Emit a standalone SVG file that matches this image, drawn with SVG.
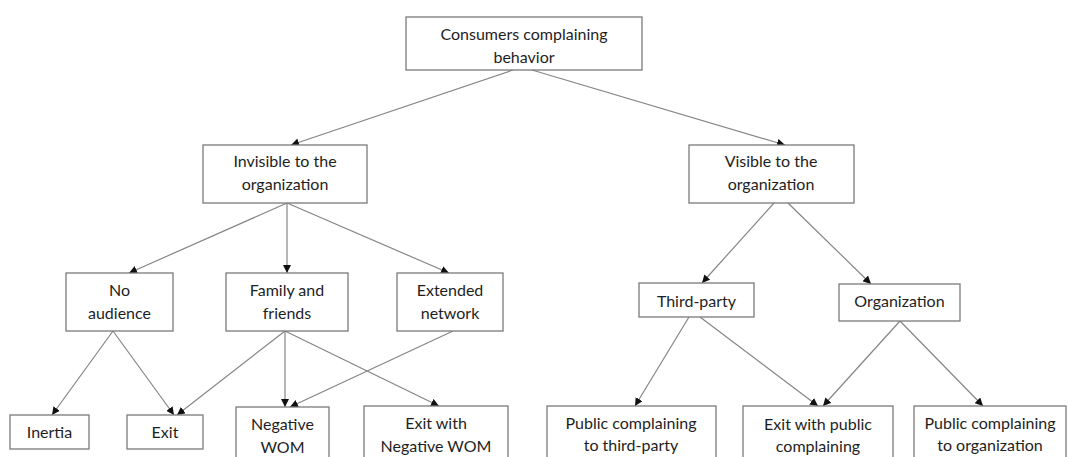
<svg xmlns="http://www.w3.org/2000/svg" width="1068" height="457" viewBox="0 0 1068 457">
  <style>
    .box { fill: #ffffff; stroke: #7a7a7a; stroke-width: 1.3; }
    .lbl { font-family: Lato, "Liberation Sans", sans-serif; font-size: 16px; fill: #1e1e1e; text-anchor: middle; }
    .edge { stroke: #858585; stroke-width: 1.2; fill: none; marker-end: url(#arrow); }
  </style>
  <defs>
    <marker id="arrow" markerUnits="userSpaceOnUse" markerWidth="10" markerHeight="8" refX="8" refY="4" orient="auto">
      <path d="M0,0 L8,4 L0,8 Z" fill="#111111"/>
    </marker>
  </defs>
  <rect width="1068" height="457" fill="#ffffff"/>

  <!-- connectors -->
  <g id="connectors">
    <line class="edge" x1="513" y1="70" x2="291" y2="145"/>
    <line class="edge" x1="532" y1="70" x2="785" y2="145"/>
    <line class="edge" x1="287" y1="203" x2="129" y2="273"/>
    <line class="edge" x1="287" y1="203" x2="287" y2="273"/>
    <line class="edge" x1="287" y1="203" x2="449" y2="273"/>
    <line class="edge" x1="113" y1="331" x2="52" y2="415"/>
    <line class="edge" x1="113" y1="331" x2="174" y2="415"/>
    <line class="edge" x1="285" y1="331" x2="177" y2="415"/>
    <line class="edge" x1="285" y1="331" x2="285" y2="407"/>
    <line class="edge" x1="285" y1="331" x2="439" y2="406"/>
    <line class="edge" x1="453" y1="331" x2="290" y2="407"/>
    <line class="edge" x1="774" y1="203" x2="702" y2="283"/>
    <line class="edge" x1="788" y1="203" x2="871" y2="284"/>
    <line class="edge" x1="689" y1="317" x2="635" y2="406"/>
    <line class="edge" x1="700" y1="317" x2="818" y2="406"/>
    <line class="edge" x1="900" y1="321" x2="823" y2="406"/>
    <line class="edge" x1="900" y1="321" x2="983" y2="406"/>
  </g>

  <g id="consumers-complaining-behavior">
    <rect class="box" x="406" y="17" width="236" height="53"/>
    <text class="lbl" x="524" y="40">Consumers complaining</text>
    <text class="lbl" x="524" y="63">behavior</text>
  </g>

  <g id="invisible">
    <rect class="box" x="203" y="145" width="164" height="58"/>
    <text class="lbl" x="285" y="167">Invisible to the</text>
    <text class="lbl" x="285" y="190">organization</text>
  </g>

  <g id="visible">
    <rect class="box" x="689" y="145" width="165" height="58"/>
    <text class="lbl" x="771" y="167">Visible to the</text>
    <text class="lbl" x="771" y="190">organization</text>
  </g>

  <g id="no-audience">
    <rect class="box" x="66" y="273" width="107" height="58"/>
    <text class="lbl" x="119.5" y="296">No</text>
    <text class="lbl" x="119.5" y="319">audience</text>
  </g>

  <g id="family-and-friends">
    <rect class="box" x="226" y="273" width="122" height="58"/>
    <text class="lbl" x="287" y="296">Family and</text>
    <text class="lbl" x="287" y="319">friends</text>
  </g>

  <g id="extended-network">
    <rect class="box" x="397" y="273" width="106" height="58"/>
    <text class="lbl" x="450" y="296">Extended</text>
    <text class="lbl" x="450" y="319">network</text>
  </g>

  <g id="third-party">
    <rect class="box" x="639" y="283" width="115" height="34"/>
    <text class="lbl" x="696.5" y="307">Third-party</text>
  </g>

  <g id="organization">
    <rect class="box" x="839" y="284" width="121" height="37"/>
    <text class="lbl" x="899.5" y="307">Organization</text>
  </g>

  <g id="inertia">
    <rect class="box" x="10" y="415" width="79" height="34"/>
    <text class="lbl" x="49.5" y="438">Inertia</text>
  </g>

  <g id="exit">
    <rect class="box" x="127" y="415" width="76" height="34"/>
    <text class="lbl" x="165" y="438">Exit</text>
  </g>

  <g id="negative-wom">
    <rect class="box" x="236" y="407" width="93" height="60"/>
    <text class="lbl" x="282.5" y="430">Negative</text>
    <text class="lbl" x="282.5" y="453">WOM</text>
  </g>

  <g id="exit-with-negative-wom">
    <rect class="box" x="364" y="406" width="144" height="60"/>
    <text class="lbl" x="436" y="429">Exit with</text>
    <text class="lbl" x="436" y="452">Negative WOM</text>
  </g>

  <g id="public-complaining-third-party">
    <rect class="box" x="547" y="406" width="169" height="60"/>
    <text class="lbl" x="631" y="429">Public complaining</text>
    <text class="lbl" x="631" y="451">to third-party</text>
  </g>

  <g id="exit-with-public-complaining">
    <rect class="box" x="743" y="406" width="150" height="60"/>
    <text class="lbl" x="818" y="430">Exit with public</text>
    <text class="lbl" x="818" y="452">complaining</text>
  </g>

  <g id="public-complaining-organization">
    <rect class="box" x="914" y="406" width="152" height="60"/>
    <text class="lbl" x="990" y="429">Public complaining</text>
    <text class="lbl" x="990" y="451">to organization</text>
  </g>
</svg>
